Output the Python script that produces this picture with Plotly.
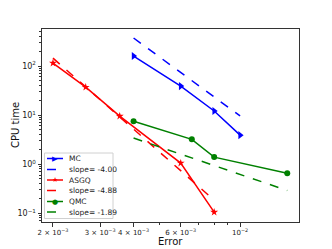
import plotly.graph_objects as go

# Data
mc_err = [4.0e-3, 6.0e-3, 8.0e-3, 1.0e-2]
mc_cpu = [160, 39, 12.1, 3.9]
mc_fit_err = [4.0e-3, 1.0e-2]
mc_fit_cpu = [373, 9.6]

asgq_err = [2.0e-3, 2.65e-3, 3.55e-3, 6.0e-3, 8.0e-3]
asgq_cpu = [115, 37, 9.5, 1.05, 0.105]
asgq_fit_err = [2.0e-3, 8.0e-3]
asgq_fit_cpu = [145, 0.184]

qmc_err = [4.0e-3, 6.6e-3, 8.0e-3, 1.5e-2]
qmc_cpu = [7.5, 3.2, 1.39, 0.65]
qmc_fit_err = [4.0e-3, 1.5e-2]
qmc_fit_cpu = [3.4, 0.29]

x_tickvals = [2e-3, 3e-3, 4e-3, 6e-3, 1e-2]
x_ticktext = ["2 × 10<sup>−3</sup>", "3 × 10<sup>−3</sup>", "4 × 10<sup>−3</sup>",
              "6 × 10<sup>−3</sup>", "10<sup>−2</sup>"]
x_minor = [5e-3, 7e-3, 8e-3, 9e-3]
y_tickvals = [0.1, 1, 10, 100]
y_ticktext = ["10<sup>−1</sup>", "10<sup>0</sup>", "10<sup>1</sup>", "10<sup>2</sup>"]
y_minor = [m * 10 ** k for k in range(-2, 3) for m in range(2, 10)]

legend_names = ["MC", "slope= -4.00", "ASGQ", "slope= -4.88", "QMC", "slope= -1.89"]
legend_colors = ["blue", "blue", "red", "red", "green", "green"]
legend_dash = ["solid", "dash", "solid", "dash", "solid", "dash"]
legend_glyph = ["▶", "", "★", "", "●", ""]

fig = go.Figure()
fig.add_trace(go.Scatter(x=mc_err, y=mc_cpu, mode="lines+markers", name=legend_names[0],
                         line=dict(color="blue", width=1.5),
                         marker=dict(symbol="triangle-right", size=7, color="blue")))
fig.add_trace(go.Scatter(x=mc_fit_err, y=mc_fit_cpu, mode="lines", name=legend_names[1],
                         line=dict(color="blue", width=1.5, dash="dash")))
fig.add_trace(go.Scatter(x=asgq_err, y=asgq_cpu, mode="lines+markers", name=legend_names[2],
                         line=dict(color="red", width=1.5),
                         marker=dict(symbol="star", size=6, color="red")))
fig.add_trace(go.Scatter(x=asgq_fit_err, y=asgq_fit_cpu, mode="lines", name=legend_names[3],
                         line=dict(color="red", width=1.5, dash="dash")))
fig.add_trace(go.Scatter(x=qmc_err, y=qmc_cpu, mode="lines+markers", name=legend_names[4],
                         line=dict(color="green", width=1.5),
                         marker=dict(symbol="circle", size=6, color="green")))
fig.add_trace(go.Scatter(x=qmc_fit_err, y=qmc_fit_cpu, mode="lines", name=legend_names[5],
                         line=dict(color="green", width=1.5, dash="dash")))

axis_common = dict(type="log", showline=True, mirror=True, linecolor="#333", linewidth=1,
                   ticks="outside", ticklen=3.5, tickcolor="#333", showgrid=False,
                   zeroline=False, automargin=False)

fig.update_xaxes(range=[-2.740, -1.780], tickmode="array", tickvals=x_tickvals,
                 ticktext=x_ticktext, tickangle=0,
                 tickfont=dict(size=7, color="#222", family="DejaVu Sans"),
                 minor=dict(tickvals=x_minor, ticks="outside", ticklen=2, tickcolor="#333"),
                 **axis_common)
fig.update_yaxes(range=[-1.18, 2.755], tickmode="array", tickvals=y_tickvals,
                 ticktext=y_ticktext,
                 tickfont=dict(size=8, color="#222", family="DejaVu Sans"),
                 minor=dict(tickvals=y_minor, ticks="outside", ticklen=2, tickcolor="#333"),
                 **axis_common)

# Page body has an 8px margin; plot area in page pixels:
plot_l, plot_r, plot_t, plot_b = 42, 299, 29, 222
OFF = 8
W, H = plot_r - plot_l, plot_b - plot_t
def px(x):
    return (x - plot_l) / W
def py(y):
    return (plot_b - y) / H

shapes = [dict(type="rect", xref="paper", yref="paper",
               x0=px(44.5), x1=px(113), y0=py(218.5), y1=py(153),
               line=dict(color="#d0d0d0", width=1), fillcolor="rgba(255,255,255,0.85)",
               layer="above")]
annotations = []
row_y = [158.5, 169.5, 180, 190.5, 201.5, 212]
for i, name in enumerate(legend_names):
    yy = py(row_y[i])
    shapes.append(dict(type="line", xref="paper", yref="paper",
                       x0=px(47), x1=px(63), y0=yy, y1=yy, layer="above",
                       line=dict(color=legend_colors[i], width=1.5,
                                 dash="dash" if legend_dash[i] == "dash" else "solid")))
    if legend_glyph[i]:
        annotations.append(dict(xref="paper", yref="paper", x=px(55), y=yy,
                                text=legend_glyph[i], showarrow=False,
                                font=dict(size=7, color=legend_colors[i], family="DejaVu Sans"),
                                xanchor="center", yanchor="middle"))
    annotations.append(dict(xref="paper", yref="paper", x=px(66.5), y=yy, text=name,
                            showarrow=False, xanchor="left", yanchor="middle",
                            font=dict(size=7.5, color="#222", family="DejaVu Sans")))

# Axis titles
annotations.append(dict(xref="paper", yref="paper", x=px(170), y=py(242), text="Error",
                        showarrow=False, xanchor="center", yanchor="middle",
                        font=dict(size=10, color="#111", family="DejaVu Sans")))
annotations.append(dict(xref="paper", yref="paper", x=px(15), y=py(125), text="CPU time",
                        showarrow=False, xanchor="center", yanchor="middle", textangle=-90,
                        font=dict(size=10, color="#111", family="DejaVu Sans")))

fig.update_layout(
    width=332, height=249,
    margin=dict(l=plot_l - OFF, r=332 - plot_r + OFF, t=plot_t - OFF, b=249 - plot_b + OFF),
    paper_bgcolor="white", plot_bgcolor="white",
    showlegend=False,
    shapes=shapes, annotations=annotations,
    font=dict(family="DejaVu Sans"),
)

fig.write_html("out.html")
